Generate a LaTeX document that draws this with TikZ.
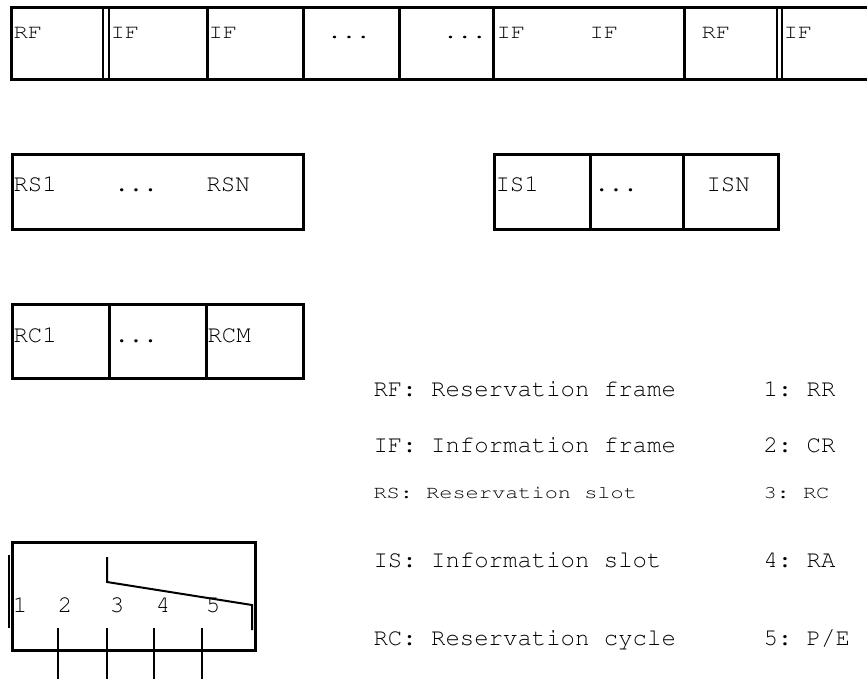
\documentclass[tikz,border=0pt]{standalone}
\newcommand{\cour}{\fontencoding{T1}\fontfamily{pcr}\selectfont\frenchspacing}
\newcommand{\frametext}[1]{\scalebox{1.22}[1]{\cour\fontsize{18}{20}\selectfont #1}}
\newcommand{\celltext}[1]{\scalebox{1.2}[1]{\cour\fontsize{20}{22}\selectfont #1}}
\newcommand{\slottext}{\cour\fontsize{24}{26}\selectfont}
\tikzset{
  ftxt/.style={anchor=base west,inner sep=0pt},
  stxt/.style={anchor=base west,inner sep=0pt,font=\slottext},
  digit/.style={anchor=base,inner sep=0pt,font=\slottext},
  tick/.style={line width=2pt}
}
\begin{document}
\begin{tikzpicture}[x=1pt,y=-1pt,line width=3pt]
\useasboundingbox (0,0) rectangle (867,679);

% frame sequence
\draw (867,7.5)--(11.5,7.5)--(11.5,80)--(867,80);
\draw[tick] (103,7.5)--(103,80);
\draw[tick] (109,7.5)--(109,80);
\draw (207,7.5)--(207,80);
\draw (303,7.5)--(303,80);
\draw (399,7.5)--(399,80);
\draw (493,7.5)--(493,80);
\draw (684,7.5)--(684,80);
\draw[tick] (777,7.5)--(777,80);
\draw[tick] (782,7.5)--(782,80);
\node[ftxt] (rfa) at (12,39) {\celltext{RF}};
\node[ftxt] (ifa) at (109,39) {\celltext{IF}};
\node[ftxt] (ifb) at (207,39) {\celltext{IF}};
\node[ftxt,anchor=base] (dota) at (349,39) {\celltext{...}};
\node[ftxt,anchor=base east] (dotb) at (488,39) {\celltext{...}};
\node[ftxt] (ifc) at (495,39) {\celltext{IF}};
\node[ftxt] (ifd) at (588,39) {\celltext{IF}};
\node[ftxt] (rfb) at (700,39) {\celltext{RF}};
\node[ftxt] (ife) at (782,39) {\celltext{IF}};

% reservation slots
\draw (12,155) rectangle (303,229);
\node[stxt] (rsa) at (12,192) {RS1};
\node[stxt] (rsdots) at (113,192) {...};
\node[stxt] (rsn) at (205,192) {RSN};

% information slots
\draw (494,155) rectangle (778,229);
\draw (590,155)--(590,229);
\draw (683,155)--(683,229);
\node[stxt] (isa) at (494,192) {IS1};
\node[stxt] (isdots) at (593,192) {...};
\node[stxt] (isn) at (705,192) {ISN};

% reservation cycles
\draw (12,304) rectangle (303,378);
\draw (109,304)--(109,378);
\draw (206,304)--(206,378);
\node[stxt] (rca) at (12,342) {RC1};
\node[stxt] (rcdots) at (113,342) {...};
\node[stxt] (rcm) at (206,342) {RCM};

% reservation slot fields
\draw (12,542) rectangle (255,650);
\draw[tick] (9,555)--(9,628);
\draw[tick] (107,557)--(107,582)--(252,605)--(252,630);
\draw[tick] (58,628)--(58,679);
\draw[tick] (107,628)--(107,679);
\draw[tick] (154,628)--(154,679);
\draw[tick] (202,628)--(202,679);
\node[digit] (fa) at (20,612) {1};
\node[digit] (fb) at (65,612) {2};
\node[digit] (fc) at (117,612) {3};
\node[digit] (fd) at (163,612) {4};
\node[digit] (fe) at (213,612) {5};

% legend
\node[stxt] (lrf) at (372,396) {RF: Reservation frame};
\node[stxt] (lif) at (372,452) {IF: Information frame};
\node[ftxt] (lrs) at (372,498) {\frametext{RS: Reservation slot}};
\node[stxt] (lis) at (372,567) {IS: Information slot};
\node[stxt] (lrc) at (372,645) {RC: Reservation cycle};
\node[stxt] (la) at (762,396) {1: RR};
\node[stxt] (lb) at (762,452) {2: CR};
\node[ftxt] (lc) at (762,498) {\frametext{3: RC}};
\node[stxt] (ld) at (762,567) {4: RA};
\node[stxt] (le) at (762,645) {5: P/E};
\end{tikzpicture}
\end{document}
